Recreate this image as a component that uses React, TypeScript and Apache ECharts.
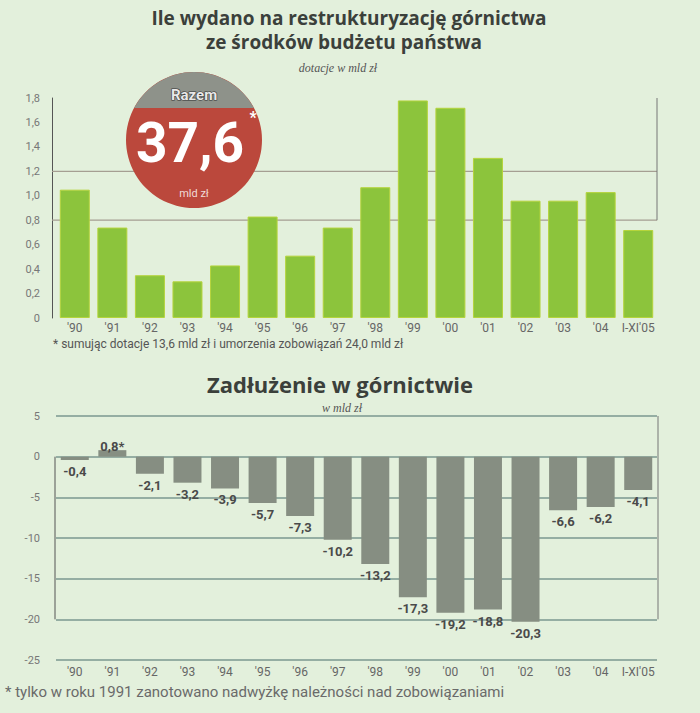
import React, { useEffect, useRef } from "react";
import * as echarts from "echarts";

const categories = ["'90", "'91", "'92", "'93", "'94", "'95", "'96", "'97", "'98", "'99", "'00", "'01", "'02", "'03", "'04", "I-XI'05"];
const subsidies = [1.05, 0.74, 0.35, 0.3, 0.43, 0.83, 0.51, 0.74, 1.07, 1.78, 1.72, 1.31, 0.96, 0.96, 1.03, 0.72];
const debt = [-0.4, 0.8, -2.1, -3.2, -3.9, -5.7, -7.3, -10.2, -13.2, -17.3, -19.2, -18.8, -20.3, -6.6, -6.2, -4.1];
const starred = ["'91"];
const topGridValues = [1.2, 0.8];
const totalLabel = "37,6";

const BG = "#e3f0dc";
const fmt = (v: number) => (v === 0 ? "0" : v.toFixed(1).replace(".", ","));

export default function App() {
  const ref = useRef<HTMLDivElement>(null);
  useEffect(() => {
    document.body.style.margin = "0";
    const chart = echarts.init(ref.current!, null, { renderer: "svg" });
    echarts.graphic.registerShape(
      "badgeCap",
      echarts.graphic.extendPath("M -60 -32 A 68 68 0 0 1 60 -32 Z", {}) as any
    );
    const LEFT = 56;
    const RIGHT = 43;
    const option: any = {
      animation: false,
      backgroundColor: BG,
      grid: [
        { left: LEFT, right: RIGHT, top: 98, height: 220 },
        { left: LEFT, right: RIGHT, top: 416, height: 244 },
      ],
      xAxis: [
        {
          type: "category",
          gridIndex: 0,
          data: categories,
          axisLine: { show: false },
          axisTick: { show: false },
          axisLabel: { color: "#666", fontSize: 12, fontFamily: "Roboto", margin: 4, interval: 0 },
        },
        {
          type: "category",
          gridIndex: 1,
          data: categories,
          axisLine: { show: false },
          axisTick: { show: false },
          axisLabel: { color: "#666", fontSize: 12, fontFamily: "Roboto", margin: 6, interval: 0 },
        },
      ],
      yAxis: [
        {
          type: "value",
          gridIndex: 0,
          min: 0,
          max: 1.8,
          interval: 0.2,
          offset: 4,
          axisLine: { show: true, lineStyle: { color: "#555", width: 1 } },
          axisTick: { show: false },
          splitLine: { show: false },
          axisLabel: { color: "#777", fontSize: 11, fontFamily: "Roboto", margin: 12, formatter: fmt },
        },
        {
          type: "value",
          gridIndex: 1,
          min: -25,
          max: 5,
          interval: 5,
          axisLine: { show: false },
          axisTick: { show: false },
          splitLine: { show: true, lineStyle: { color: "#7b9890", width: 1.5 } },
          axisLabel: { color: "#777", fontSize: 11, fontFamily: "Roboto", margin: 16 },
        },
      ],
      series: [
        {
          type: "bar",
          xAxisIndex: 0,
          yAxisIndex: 0,
          data: subsidies,
          barWidth: 30,
          itemStyle: { color: "#8cc43c", borderColor: "#b5d43c", borderWidth: 1 },
          z: 3,
        },
        {
          type: "bar",
          xAxisIndex: 1,
          yAxisIndex: 1,
          data: debt,
          barWidth: 28,
          itemStyle: { color: "#868e82" },
          z: 3,
          label: {
            show: true,
            position: "bottom",
            color: "#4a4a4a",
            fontSize: 13,
            fontWeight: "bold",
            fontFamily: "Roboto",
            distance: 5,
            offset: [-3, 0],
            formatter: (p: any) => fmt(p.value) + (starred.includes(p.name) ? "*" : ""),
          },
          labelLayout: (p: any) => (p.dataIndex === 1 ? { dy: -22 } : {}),
        },
      ],
    };
    chart.setOption(option);

    const xL = LEFT;
    const xR = 700 - RIGHT;
    const yT18 = chart.convertToPixel({ yAxisIndex: 0 }, 1.8) as number;
    const yT08 = chart.convertToPixel({ yAxisIndex: 0 }, 0.8) as number;
    const yB5 = chart.convertToPixel({ yAxisIndex: 1 }, 5) as number;
    const yB0 = chart.convertToPixel({ yAxisIndex: 1 }, 0) as number;
    const yBm20 = chart.convertToPixel({ yAxisIndex: 1 }, -20) as number;

    const gridLines = topGridValues.map((v) => {
      const y = chart.convertToPixel({ yAxisIndex: 0 }, v) as number;
      return {
        type: "line",
        z: 1,
        shape: { x1: xL - 4, y1: y, x2: xR, y2: y },
        style: { stroke: "#a59e92", lineWidth: 1.2 },
      };
    });

    const titleFont = "'Open Sans'";
    const bodyFont = "Roboto";
    const graphic: any[] = [
      ...gridLines,
      { type: "line", z: 1, shape: { x1: xR, y1: yT18, x2: xR, y2: yT08 }, style: { stroke: "#777", lineWidth: 1 } },
      { type: "line", z: 1, shape: { x1: xR + 1, y1: yB5, x2: xR + 1, y2: yBm20 }, style: { stroke: "#777", lineWidth: 1 } },
      { type: "line", z: 1, shape: { x1: xL - 1, y1: yB0, x2: xL - 1, y2: yBm20 }, style: { stroke: "#555", lineWidth: 1 } },
      {
        type: "text",
        x: 349,
        y: 18,
        style: { text: "Ile wydano na restrukturyzację górnictwa", fill: "#3b403b", font: `bold 19px ${titleFont}`, align: "center", verticalAlign: "middle" },
      },
      {
        type: "text",
        x: 344,
        y: 42,
        style: { text: "ze środków budżetu państwa", fill: "#3b403b", font: `bold 19px ${titleFont}`, align: "center", verticalAlign: "middle" },
      },
      {
        type: "text",
        x: 338,
        y: 68,
        style: { text: "dotacje w mld zł", fill: "#555", font: "italic 12px 'Liberation Serif'", align: "center", verticalAlign: "middle" },
      },
      {
        type: "text",
        x: 53,
        y: 344,
        style: { text: "* sumując dotacje 13,6 mld zł i umorzenia zobowiązań 24,0 mld zł", fill: "#555", font: `12px ${bodyFont}`, align: "left", verticalAlign: "middle" },
      },
      {
        type: "text",
        x: 340,
        y: 384,
        style: { text: "Zadłużenie w górnictwie", fill: "#3b403b", font: `bold 22px ${titleFont}`, align: "center", verticalAlign: "middle" },
      },
      {
        type: "text",
        x: 342,
        y: 408,
        style: { text: "w mld zł", fill: "#555", font: "italic 12px 'Liberation Serif'", align: "center", verticalAlign: "middle" },
      },
      {
        type: "text",
        x: 5,
        y: 692,
        style: { text: "* tylko w roku 1991 zanotowano nadwyżkę należności nad zobowiązaniami", fill: "#6a6a6a", font: `15px ${bodyFont}`, align: "left", verticalAlign: "middle" },
      },
      // badge
      { type: "circle", z: 5, shape: { cx: 194, cy: 140, r: 68 }, style: { fill: "#bb483c" } },
      { type: "badgeCap", z: 6, x: 194, y: 140, style: { fill: "#8e928a" } },
      {
        type: "text",
        z: 7,
        x: 194,
        y: 95,
        style: { text: "Razem", fill: "#e8e8e8", stroke: "#333", lineWidth: 1.2, font: `bold 15px ${bodyFont}`, align: "center", verticalAlign: "middle" },
      },
      {
        type: "text",
        z: 7,
        x: 190,
        y: 143,
        style: { text: totalLabel, fill: "#ffffff", font: `bold 55px ${bodyFont}`, align: "center", verticalAlign: "middle" },
      },
      {
        type: "text",
        z: 7,
        x: 253,
        y: 117,
        style: { text: "*", fill: "#ffffff", font: `bold 16px ${bodyFont}`, align: "center", verticalAlign: "middle" },
      },
      {
        type: "text",
        z: 7,
        x: 194,
        y: 193,
        style: { text: "mld zł", fill: "#f0dcd8", font: `11px ${bodyFont}`, align: "center", verticalAlign: "middle" },
      },
    ];
    chart.setOption({ graphic });

    return () => chart.dispose();
  }, []);
  return <div ref={ref} style={{ width: 700, height: 713 }} />;
}
